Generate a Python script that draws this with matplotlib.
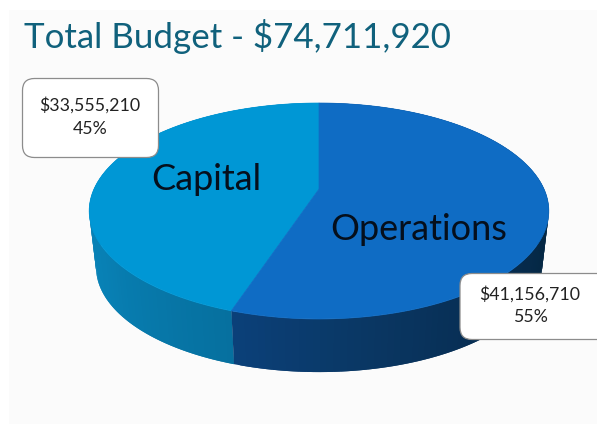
import numpy as np
import matplotlib
matplotlib.use('Agg')
import matplotlib.pyplot as plt
from matplotlib.patches import FancyBboxPatch, Rectangle

#Data
categories = ['Capital', 'Operations']
budget = [33555210, 41156710]
percent = ['45%', '55%']

plt.rcParams['font.family'] = ['Lato', 'DejaVu Sans']

W, H = 597, 431
fig = plt.figure(figsize=(W / 100, H / 100), dpi=100)
ax = fig.add_axes([0, 0, 1, 1])
ax.set_xlim(0, W)
ax.set_ylim(H, 0)
ax.axis('off')

ax.add_patch(Rectangle((9, 11), 588, 414, fc='#fbfbfb', ec='none'))


#perspective of the tilted disc, angle is counted anticlockwise from the top
def top_rim(theta):
    u, v = -np.sin(theta), np.cos(theta)
    d = 1 + 0.2037 * v
    return 319 + 225 * u / d, (190 - 64.8 * v) / d


def low_rim(theta):
    x, y = top_rim(theta)
    return 319 + 0.97 * (x - 319), 190 + 0.97 * (y - 190) + 57


#Slices
total = sum(budget)
split = 2 * np.pi * budget[0] / total
t_cap = np.linspace(0, split, 120)
t_ops = np.linspace(split, 2 * np.pi, 140)


#Side wall, shaded in strips which overlap so no seams show
def shade(stops, n):
    c = np.array([matplotlib.colors.to_rgb(s) for s in stops])
    pos = np.linspace(0, 1, len(stops))
    return [[np.interp(i / (n - 1), pos, c[:, k]) for k in range(3)] for i in range(n)]


for t, stops in [(t_cap, ['#0a86bc', '#0a86bc', '#0a86bc', '#0880b4', '#06709f']),
                 (t_ops, ['#0b4079', '#0a3763', '#072d52', '#052845', '#052845', '#072d52', '#0a3763', '#0b4079'])]:
    cols = shade(stops, len(t) - 1)
    for i in range(len(t) - 1):
        seg = t[i:i + 3]
        x1, y1 = top_rim(seg)
        x2, y2 = low_rim(seg)
        ax.fill(np.r_[x1, x2[::-1]], np.r_[y1, y2[::-1]], color=cols[i], lw=0)

#Top of the pie
cx, cy = 319, 190
x, y = top_rim(t_cap)
ax.fill(np.r_[cx, x], np.r_[cy, y], color='#0097d5', lw=0.5)
x, y = top_rim(t_ops)
ax.fill(np.r_[cx, x], np.r_[cy, y], color='#0f6cc4', lw=0.5)

#Text
ax.text(24, 36, 'Total Budget - ${:,}'.format(total), fontsize=25.1, color='#10617c',
        ha='left', va='center')
ax.text(206, 180, categories[0], fontsize=26, color='#050f1c', ha='center', va='center')
ax.text(419, 229.5, categories[1], fontsize=26, color='#050f1c', ha='center', va='center')

#Callouts
boxes = [(22.5, 79.5, 136, 79), (460, 274.5, 150, 66)]
label_xy = [(90, 105, 129), (530, 294, 317)]
for i in range(2):
    bx, by, bw, bh = boxes[i]
    ax.add_patch(FancyBboxPatch((bx + 12, by + 12), bw - 24, bh - 24,
                                boxstyle='round,pad=12,rounding_size=12',
                                fc='white', ec='#8c8c8c', lw=0.9, mutation_aspect=1))
    lx, ly1, ly2 = label_xy[i]
    ax.text(lx, ly1, '${:,}'.format(budget[i]), fontsize=12.8, color='#222222', ha='center', va='center')
    ax.text(lx, ly2, percent[i], fontsize=12.8, color='#222222', ha='center', va='center')

fig.savefig('out.png', dpi=100)
